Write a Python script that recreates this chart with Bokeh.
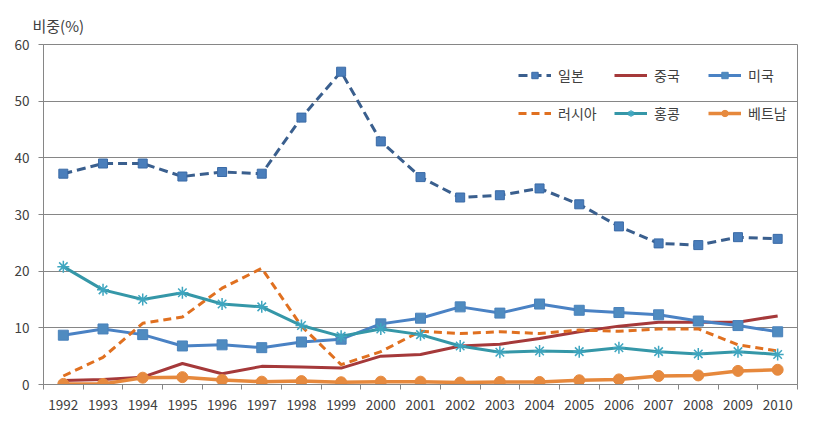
from bokeh.plotting import figure
from bokeh.models import Range1d, FixedTicker, Legend, LegendItem
from bokeh.embed import file_html
from bokeh.resources import INLINE

years = list(range(1992, 2011))
japan = [37.2, 39.0, 39.0, 36.7, 37.5, 37.2, 47.1, 55.2, 42.9, 36.6, 33.0, 33.4, 34.6, 31.8, 27.9, 24.9, 24.6, 26.0, 25.7]
china = [0.7, 0.9, 1.3, 3.7, 1.9, 3.2, 3.1, 2.9, 5.0, 5.3, 6.8, 7.1, 8.1, 9.3, 10.3, 11.0, 11.0, 11.0, 12.1]
usa = [8.7, 9.8, 8.8, 6.8, 7.0, 6.5, 7.5, 8.0, 10.7, 11.7, 13.7, 12.6, 14.2, 13.1, 12.7, 12.3, 11.2, 10.4, 9.3]
russia = [1.5, 4.8, 10.8, 11.9, 17.0, 20.5, 10.3, 3.5, 5.8, 9.4, 9.0, 9.3, 9.0, 9.6, 9.4, 9.8, 9.8, 7.0, 5.9]
hongkong = [20.8, 16.7, 15.0, 16.2, 14.2, 13.7, 10.4, 8.5, 9.8, 8.8, 6.8, 5.7, 5.9, 5.8, 6.5, 5.8, 5.4, 5.8, 5.3]
vietnam = [0.1, 0.1, 1.2, 1.3, 0.8, 0.5, 0.6, 0.4, 0.5, 0.5, 0.35, 0.45, 0.45, 0.75, 0.9, 1.5, 1.6, 2.4, 2.6]
names = ["일본", "중국", "미국", "러시아", "홍콩", "베트남"]
y_ticks = [0, 10, 20, 30, 40, 50, 60]
y_title = "비중(%)"

FONT = "Noto Sans CJK KR"
GRID = "#868686"
TXT = "#404040"

p = figure(width=812, height=418, output_backend="svg", toolbar_location=None,
           x_range=Range1d(1991.5, 2010.5), y_range=Range1d(0, 60),
           min_border_left=43, min_border_top=44, min_border_right=15, min_border_bottom=34)
p.outline_line_color = GRID
p.outline_line_width = 1
p.background_fill_color = "white"
p.border_fill_color = "white"

p.title.text = y_title
p.title.text_font = FONT
p.title.text_font_size = "15px"
p.title.text_font_style = "normal"
p.title.text_color = TXT
p.title.align = "left"
p.title.offset = -11
p.title.standoff = 17

p.xgrid.grid_line_color = None
p.ygrid.grid_line_color = GRID
p.ygrid.ticker = FixedTicker(ticks=y_ticks)

p.xaxis.ticker = FixedTicker(ticks=years, minor_ticks=[y - 0.5 for y in years] + [years[-1] + 0.5])
p.xaxis.major_tick_line_color = None
p.xaxis.minor_tick_line_color = GRID
p.xaxis.minor_tick_out = 5
p.xaxis.minor_tick_in = 0
p.xaxis.major_label_standoff = 9
p.yaxis.ticker = FixedTicker(ticks=y_ticks)
p.yaxis.minor_tick_line_color = None
p.yaxis.major_tick_out = 5
p.yaxis.major_tick_in = 0
p.yaxis.major_tick_line_color = GRID
p.yaxis.major_label_standoff = 9
for ax in (p.xaxis, p.yaxis):
    ax.axis_line_color = GRID
    ax.major_label_text_font = FONT
    ax.major_label_text_font_size = "13.5px"
    ax.major_label_text_color = TXT

# series
r_jp_l = p.line(years, japan, line_color="#3A5F8E", line_width=3, line_dash="9 5")
r_jp_m = p.scatter(years, japan, marker="square", size=9, fill_color="#4A7EBB", line_color="#3A6AA6")
r_cn_l = p.line(years, china, line_color="#A5393A", line_width=3)
r_us_l = p.line(years, usa, line_color="#4A82C4", line_width=3)
r_us_m = p.scatter(years, usa, marker="square", size=10, fill_color="#4F8BC0", line_color="#4A82BB")
r_ru_l = p.line(years, russia, line_color="#E07020", line_width=3, line_dash="8 5")
r_hk_l = p.line(years, hongkong, line_color="#3597A8", line_width=3)
r_hk_m = p.scatter(years, hongkong, marker="asterisk", size=12, line_color="#3FA6C0", line_width=1.5)
r_vn_l = p.line(years, vietnam, line_color="#E6883C", line_width=3.5)
r_vn_m = p.scatter(years, vietnam, marker="circle", size=11, fill_color="#E68A3F", line_color="#E68A3F")

renders = [[r_jp_l, r_jp_m], [r_cn_l], [r_us_l, r_us_m], [r_ru_l], [r_hk_l, r_hk_m], [r_vn_l, r_vn_m]]
col_x = [475, 571, 665]
row_y = [299, 261]
for i, (name, rr) in enumerate(zip(names, renders)):
    lg = Legend(items=[LegendItem(label=name, renderers=rr)],
                location=(col_x[i % 3], row_y[i // 3]),
                glyph_width=33, glyph_height=16, label_height=16, label_standoff=7,
                padding=0, margin=0, spacing=0,
                label_text_font=FONT, label_text_font_size="14px", label_text_color=TXT,
                background_fill_alpha=0, border_line_color=None)
    p.add_layout(lg, "center")

open("out.html", "w").write(file_html(p, INLINE))
